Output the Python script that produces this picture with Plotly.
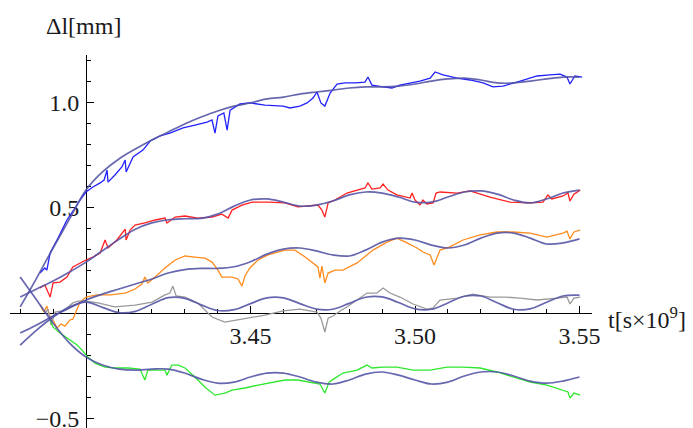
import plotly.graph_objects as go

# ---- time samples (units of 10^9 s) and elongation data (mm) ----
fit_t = [3.380, 3.385, 3.390, 3.395, 3.400, 3.405, 3.410, 3.415, 3.420, 3.425,
         3.430, 3.435, 3.440, 3.445, 3.450, 3.455, 3.460, 3.465, 3.470, 3.475,
         3.480, 3.485, 3.490, 3.495, 3.500, 3.505, 3.510, 3.515, 3.520, 3.525,
         3.530, 3.535, 3.540, 3.545, 3.550]

blue_fit = [0.029, 0.166, 0.309, 0.447, 0.584, 0.670, 0.732, 0.779, 0.822, 0.860,
            0.898, 0.931, 0.960, 0.983, 0.998, 1.017, 1.026, 1.040, 1.050, 1.059,
            1.069, 1.074, 1.074, 1.078, 1.088, 1.102, 1.112, 1.116, 1.107, 1.093,
            1.093, 1.102, 1.112, 1.121, 1.121]
red_fit = [0.076, 0.114, 0.152, 0.195, 0.242, 0.296, 0.350, 0.398, 0.428, 0.443,
           0.448, 0.450, 0.470, 0.508, 0.537, 0.542, 0.527, 0.508, 0.513, 0.532,
           0.561, 0.575, 0.570, 0.551, 0.527, 0.527, 0.551, 0.575, 0.580, 0.565,
           0.537, 0.523, 0.542, 0.570, 0.584]
orange_fit = [-0.095, -0.057, -0.014, 0.024, 0.062, 0.090, 0.114, 0.138, 0.162, 0.190,
              0.206, 0.212, 0.212, 0.220, 0.244, 0.280, 0.304, 0.309, 0.295, 0.276,
              0.271, 0.299, 0.337, 0.356, 0.347, 0.323, 0.309, 0.323, 0.356, 0.380,
              0.380, 0.356, 0.328, 0.333, 0.352]
gray_fit = [-0.152, -0.081, -0.019, 0.029, 0.052, 0.027, 0.002, 0.008, 0.042, 0.073,
            0.070, 0.039, 0.012, 0.016, 0.045, 0.072, 0.072, 0.045, 0.019, 0.018,
            0.046, 0.075, 0.077, 0.050, 0.020, 0.018, 0.048, 0.080, 0.081, 0.049,
            0.018, 0.020, 0.051, 0.081, 0.085]
green_fit = [0.171, 0.062, -0.048, -0.143, -0.209, -0.247, -0.266, -0.271, -0.266, -0.266,
             -0.285, -0.314, -0.333, -0.328, -0.304, -0.285, -0.285, -0.304, -0.328, -0.337,
             -0.318, -0.290, -0.280, -0.295, -0.318, -0.337, -0.328, -0.299, -0.280, -0.280,
             -0.299, -0.323, -0.333, -0.323, -0.304]

blue_t = [3.3860, 3.3875, 3.3881, 3.3891, 3.3915, 3.3942, 3.3967, 3.3982, 3.4000, 3.4021,
          3.4043, 3.4055, 3.4064, 3.4067, 3.4088, 3.4109, 3.4119, 3.4122, 3.4143, 3.4173,
          3.4195, 3.4225, 3.4255, 3.4295, 3.4331, 3.4368, 3.4383, 3.4392, 3.4401, 3.4419,
          3.4429, 3.4438, 3.4468, 3.4498, 3.4544, 3.4599, 3.4620, 3.4650, 3.4672, 3.4690,
          3.4702, 3.4714, 3.4726, 3.4742, 3.4763, 3.4787, 3.4818, 3.4848, 3.4857, 3.4869,
          3.4903, 3.4930, 3.4954, 3.4985, 3.5015, 3.5046, 3.5061, 3.5085, 3.5128, 3.5167,
          3.5207, 3.5237, 3.5267, 3.5310, 3.5371, 3.5410, 3.5441, 3.5462, 3.5471, 3.5486,
          3.5508]
blue_dl = [0.190, 0.214, 0.204, 0.285, 0.356, 0.442, 0.499, 0.537, 0.575, 0.599,
           0.618, 0.632, 0.679, 0.622, 0.656, 0.694, 0.727, 0.670, 0.741, 0.774,
           0.817, 0.841, 0.855, 0.879, 0.893, 0.907, 0.917, 0.855, 0.936, 0.950,
           0.869, 0.964, 0.993, 0.998, 0.988, 0.983, 0.974, 0.983, 0.998, 1.021,
           1.050, 0.998, 0.983, 1.045, 1.088, 1.093, 1.093, 1.097, 1.121, 1.083,
           1.074, 1.069, 1.083, 1.093, 1.102, 1.116, 1.145, 1.131, 1.116, 1.107,
           1.093, 1.074, 1.078, 1.097, 1.126, 1.131, 1.135, 1.121, 1.088, 1.126,
           1.121]

red_t = [3.3860, 3.3875, 3.3891, 3.3900, 3.3921, 3.3942, 3.3960, 3.3982, 3.4000, 3.4021,
         3.4043, 3.4058, 3.4067, 3.4094, 3.4119, 3.4122, 3.4134, 3.4149, 3.4179, 3.4210,
         3.4240, 3.4246, 3.4271, 3.4301, 3.4340, 3.4383, 3.4413, 3.4432, 3.4444, 3.4474,
         3.4505, 3.4553, 3.4605, 3.4644, 3.4681, 3.4705, 3.4717, 3.4726, 3.4736, 3.4757,
         3.4793, 3.4827, 3.4848, 3.4857, 3.4869, 3.4894, 3.4903, 3.4918, 3.4945, 3.4985,
         3.4991, 3.5000, 3.5015, 3.5024, 3.5036, 3.5055, 3.5064, 3.5076, 3.5128, 3.5167,
         3.5188, 3.5228, 3.5289, 3.5350, 3.5389, 3.5404, 3.5416, 3.5450, 3.5465, 3.5471,
         3.5483, 3.5502]
red_dl = [0.119, 0.133, 0.076, 0.143, 0.147, 0.171, 0.219, 0.238, 0.252, 0.266,
          0.285, 0.347, 0.309, 0.347, 0.399, 0.347, 0.394, 0.418, 0.428, 0.442,
          0.451, 0.428, 0.456, 0.461, 0.451, 0.456, 0.470, 0.451, 0.489, 0.513,
          0.527, 0.527, 0.523, 0.504, 0.508, 0.513, 0.489, 0.456, 0.523, 0.537,
          0.570, 0.584, 0.594, 0.618, 0.589, 0.594, 0.613, 0.584, 0.561, 0.546,
          0.570, 0.537, 0.513, 0.537, 0.518, 0.523, 0.570, 0.575, 0.570, 0.580,
          0.570, 0.551, 0.527, 0.523, 0.527, 0.561, 0.542, 0.556, 0.570, 0.532,
          0.565, 0.584]

orange_t = [3.3860, 3.3872, 3.3881, 3.3891, 3.3903, 3.3912, 3.3924, 3.3936, 3.3951, 3.3960,
            3.3973, 3.3982, 3.4000, 3.4033, 3.4073, 3.4119, 3.4149, 3.4170, 3.4179, 3.4188,
            3.4210, 3.4240, 3.4271, 3.4301, 3.4331, 3.4362, 3.4383, 3.4401, 3.4413, 3.4444,
            3.4462, 3.4474, 3.4483, 3.4498, 3.4523, 3.4553, 3.4605, 3.4635, 3.4666, 3.4687,
            3.4705, 3.4711, 3.4717, 3.4726, 3.4736, 3.4757, 3.4781, 3.4824, 3.4872, 3.4915,
            3.4945, 3.4976, 3.5006, 3.5024, 3.5046, 3.5058, 3.5067, 3.5076, 3.5106, 3.5146,
            3.5198, 3.5249, 3.5298, 3.5350, 3.5401, 3.5450, 3.5462, 3.5471, 3.5483, 3.5502]
orange_dl = [0.038, 0.005, 0.033, -0.019, -0.043, -0.071, -0.052, -0.062, -0.033, -0.029,
             0.019, 0.052, 0.076, 0.086, 0.086, 0.095, 0.114, 0.138, 0.171, 0.143,
             0.171, 0.214, 0.252, 0.271, 0.266, 0.261, 0.242, 0.204, 0.171, 0.171,
             0.162, 0.128, 0.176, 0.214, 0.252, 0.276, 0.299, 0.299, 0.266, 0.242,
             0.219, 0.166, 0.223, 0.143, 0.190, 0.204, 0.204, 0.238, 0.299, 0.337,
             0.356, 0.333, 0.309, 0.290, 0.276, 0.228, 0.261, 0.299, 0.314, 0.347,
             0.371, 0.385, 0.385, 0.380, 0.361, 0.380, 0.389, 0.352, 0.385, 0.394]

gray_t = [3.3875, 3.3884, 3.3894, 3.3906, 3.3927, 3.3942, 3.3960, 3.3976, 3.4000, 3.4036,
          3.4088, 3.4119, 3.4149, 3.4201, 3.4240, 3.4255, 3.4264, 3.4274, 3.4301, 3.4340,
          3.4383, 3.4422, 3.4462, 3.4505, 3.4544, 3.4599, 3.4650, 3.4702, 3.4714, 3.4726,
          3.4736, 3.4751, 3.4772, 3.4793, 3.4824, 3.4854, 3.4884, 3.4903, 3.4924, 3.4954,
          3.4994, 3.5036, 3.5055, 3.5067, 3.5076, 3.5128, 3.5176, 3.5228, 3.5274, 3.5319,
          3.5371, 3.5432, 3.5462, 3.5471, 3.5483, 3.5502]
gray_dl = [0.000, 0.019, -0.057, 0.005, 0.010, 0.024, 0.048, 0.057, 0.057, 0.048,
           0.029, 0.033, 0.038, 0.052, 0.086, 0.095, 0.128, 0.081, 0.076, 0.048,
           -0.019, -0.043, -0.033, -0.019, -0.010, 0.010, 0.019, 0.005, -0.024, -0.090,
           -0.024, -0.014, 0.010, 0.029, 0.062, 0.095, 0.095, 0.119, 0.095, 0.076,
           0.043, 0.019, 0.024, 0.048, 0.062, 0.071, 0.090, 0.076, 0.076, 0.071,
           0.062, 0.071, 0.076, 0.043, 0.071, 0.076]

green_t = [3.3891, 3.3900, 3.3921, 3.3942, 3.3957, 3.3973, 3.3988, 3.4000, 3.4027, 3.4058,
           3.4088, 3.4128, 3.4164, 3.4179, 3.4188, 3.4219, 3.4240, 3.4246, 3.4261, 3.4280,
           3.4301, 3.4331, 3.4362, 3.4392, 3.4422, 3.4444, 3.4483, 3.4523, 3.4565, 3.4605,
           3.4644, 3.4687, 3.4711, 3.4726, 3.4739, 3.4757, 3.4781, 3.4824, 3.4854, 3.4869,
           3.4903, 3.4945, 3.4994, 3.5046, 3.5097, 3.5146, 3.5198, 3.5249, 3.5298, 3.5350,
           3.5401, 3.5450, 3.5465, 3.5471, 3.5483, 3.5502]
green_dl = [-0.033, -0.067, -0.095, -0.119, -0.138, -0.152, -0.176, -0.200, -0.238, -0.257,
            -0.261, -0.261, -0.266, -0.318, -0.271, -0.271, -0.271, -0.295, -0.247, -0.247,
            -0.261, -0.304, -0.352, -0.390, -0.380, -0.366, -0.356, -0.342, -0.328, -0.318,
            -0.318, -0.328, -0.337, -0.380, -0.328, -0.309, -0.285, -0.271, -0.247, -0.261,
            -0.257, -0.257, -0.271, -0.271, -0.257, -0.257, -0.261, -0.280, -0.304, -0.328,
            -0.342, -0.366, -0.375, -0.404, -0.380, -0.390]

# axis ticks
x_major = [3.45, 3.50, 3.55]
x_major_text = ["3.45", "3.50", "3.55"]
x_minor = [3.38, 3.39, 3.41, 3.42, 3.43, 3.44, 3.46, 3.47, 3.48, 3.49,
           3.51, 3.52, 3.53, 3.54]
y_major = [-0.5, 0.5, 1.0]
y_major_text = ["\u22120.5", "0.5", "1.0"]
y_minor = [-0.4, -0.3, -0.2, -0.1, 0.1, 0.2, 0.3, 0.4, 0.6, 0.7, 0.8, 0.9, 1.1, 1.2]

x_range = [3.3769, 3.5538]
y_range = [-0.546, 1.2257]
x_origin, y_origin = 3.40, 0.0

FONT = "Liberation Serif"
TEXT_COLOR = "#1a1a1a"
FIT_COLOR = "rgba(82,82,165,0.88)"

measured = [
    (blue_t, blue_dl, "#2222ff"),
    (red_t, red_dl, "#ff2020"),
    (orange_t, orange_dl, "#ff8c1f"),
    (gray_t, gray_dl, "#9a9a9a"),
    (green_t, green_dl, "#2ee82e"),
]
fits = [blue_fit, red_fit, orange_fit, gray_fit, green_fit]

fig = go.Figure()
for t, dl, color in measured:
    fig.add_trace(go.Scatter(x=t, y=dl, mode="lines",
                             line=dict(color=color, width=1.3),
                             hoverinfo="skip", showlegend=False))
for f in fits:
    fig.add_trace(go.Scatter(x=fit_t, y=f, mode="lines",
                             line=dict(color=FIT_COLOR, width=1.7, shape="spline",
                                       smoothing=1.0),
                             hoverinfo="skip", showlegend=False))

axis_common = dict(
    showline=True, linecolor="black", linewidth=1,
    ticks="inside", ticklen=7, tickwidth=1, tickcolor="black",
    showgrid=False, zeroline=False, automargin=False,
    ticklabeloverflow="allow", layer="below traces",
    tickfont=dict(family=FONT, size=24, color=TEXT_COLOR),
)

fig.update_layout(
    width=693, height=428,
    margin=dict(l=10, r=101, t=55, b=0, pad=0),
    paper_bgcolor="white", plot_bgcolor="white",
    showlegend=False,
    font=dict(family=FONT, size=24, color=TEXT_COLOR),
    xaxis=dict(
        range=x_range, anchor="free",
        position=(y_origin - y_range[0]) / (y_range[1] - y_range[0]),
        tickmode="array", tickvals=x_major, ticktext=x_major_text,
        minor=dict(tickmode="array", tickvals=x_minor, ticks="inside",
                   ticklen=4, tickcolor="black", showgrid=False),
        ticklabelstandoff=1,
        **axis_common,
    ),
    yaxis=dict(
        range=y_range, anchor="free",
        position=(x_origin - x_range[0]) / (x_range[1] - x_range[0]),
        tickmode="array", tickvals=y_major, ticktext=y_major_text,
        minor=dict(tickmode="array", tickvals=y_minor, ticks="inside",
                   ticklen=4, tickcolor="black", showgrid=False),
        ticklabelstandoff=2,
        **axis_common,
    ),
    annotations=[
        dict(x=x_origin, y=y_range[1], xref="x", yref="y",
             text="\u0394l[mm]", showarrow=False,
             xanchor="center", yanchor="middle", xshift=-3, yshift=29,
             font=dict(family=FONT, size=24, color=TEXT_COLOR)),
        dict(x=x_range[1], y=y_origin, xref="x", yref="y",
             text="t[s\u00d710<sup>9</sup>]", showarrow=False,
             xanchor="left", yanchor="middle", xshift=14, yshift=-5,
             font=dict(family=FONT, size=24, color=TEXT_COLOR)),
    ],
)

fig.write_html("out.html")
